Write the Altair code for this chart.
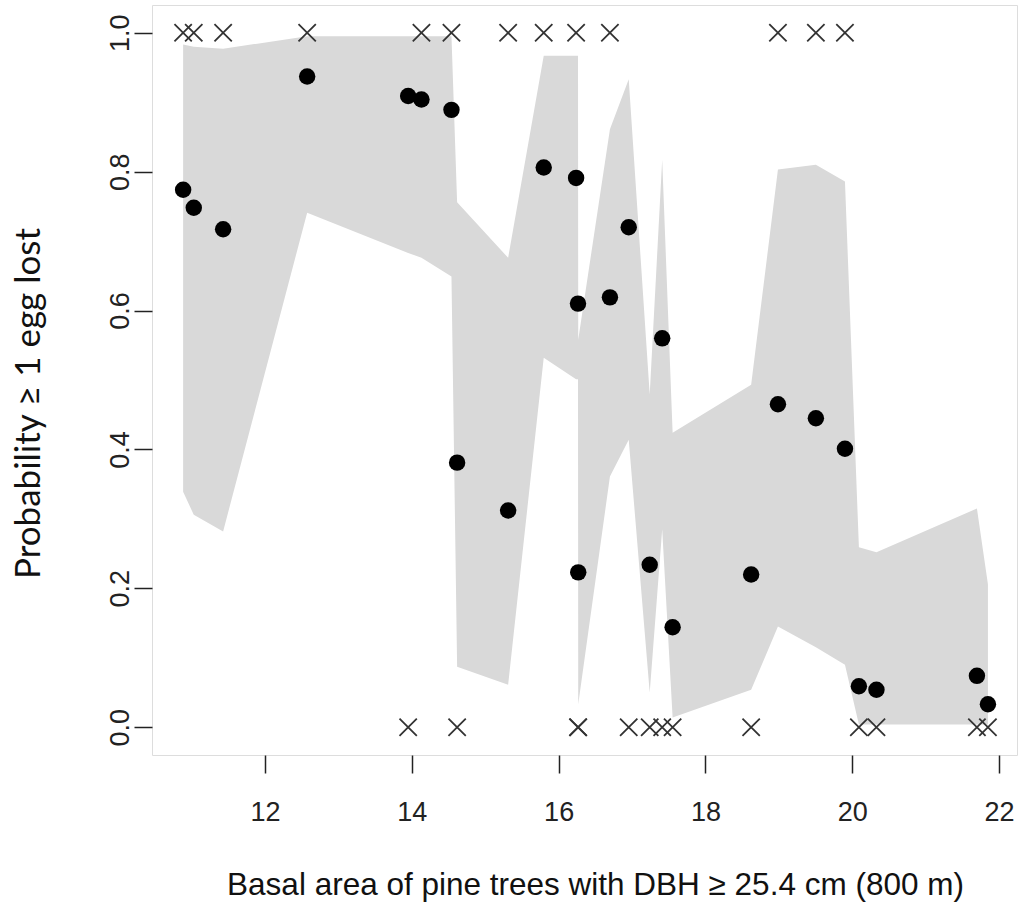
import altair as alt
import pandas as pd

# ---- data ----
basal_area = [10.884, 11.029, 11.429, 12.574, 13.950, 14.131, 14.540, 14.617, 15.312,
              15.797, 16.238, 16.264, 16.267, 16.699, 16.955, 17.241, 17.411, 17.553,
              18.623, 18.988, 19.505, 19.901, 20.091, 20.330, 21.699, 21.849]
predicted = [0.774, 0.748, 0.717, 0.937, 0.909, 0.904, 0.889, 0.381, 0.312,
             0.806, 0.791, 0.610, 0.223, 0.619, 0.720, 0.234, 0.560, 0.144,
             0.220, 0.465, 0.445, 0.401, 0.059, 0.054, 0.074, 0.033]
observed = [1, 1, 1, 1, 0, 1, 1, 0, 1,
            1, 1, 0, 0, 1, 0, 0, 0, 0,
            0, 1, 1, 1, 0, 0, 0, 0]
ci_upper = [0.983, 0.980, 0.977, 0.995, 0.995, 0.995, 0.995, 0.756, 0.676,
            0.967, 0.967, 0.967, 0.558, 0.861, 0.933, 0.479, 0.817, 0.424,
            0.493, 0.803, 0.810, 0.786, 0.259, 0.252, 0.315, 0.206]
ci_lower = [0.339, 0.306, 0.282, 0.741, 0.683, 0.676, 0.649, 0.087, 0.061,
            0.532, 0.501, 0.501, 0.033, 0.361, 0.414, 0.050, 0.285, 0.014,
            0.054, 0.145, 0.115, 0.090, 0.004, 0.004, 0.004, 0.004]

x_ticks = [12, 14, 16, 18, 20, 22]
y_ticks = [0.0, 0.2, 0.4, 0.6, 0.8, 1.0]

df = pd.DataFrame({
    "x": basal_area, "p": predicted, "obs": observed,
    "hi": ci_upper, "lo": ci_lower,
})

W, H = 865, 750
xscale = alt.Scale(domain=[10.46, 22.245], nice=False, zero=False)
yscale = alt.Scale(domain=[-0.04, 1.04], nice=False, zero=False)

xaxis = alt.Axis(
    values=x_ticks, format="d", grid=False, domain=False,
    tickSize=18, tickColor="#222", tickWidth=1.5,
    labelFont="Liberation Sans", labelFontSize=27, labelColor="#222",
    labelPadding=26, labelBaseline="top",
    title="Basal area of pine trees with DBH \u2265 25.4 cm (800 m)",
    titleFont="Liberation Sans", titleFontSize=31.5, titleFontWeight="normal",
    titleColor="#111", titleX=443, titleY=130, titleAnchor="middle",
    titleAlign="center", titleBaseline="middle",
)
yaxis = alt.Axis(
    values=y_ticks, format=".1f", grid=False, domain=False,
    tickSize=18, tickColor="#222", tickWidth=1.5,
    labelFont="Liberation Sans", labelFontSize=27, labelColor="#222",
    labelAngle=270, labelAlign="center", labelBaseline="alphabetic",
    labelPadding=6,
    title="Probability \u2265 1 egg lost",
    titleFont="Lato", titleFontSize=35, titleFontWeight="normal",
    titleColor="#111", titleAngle=270, titleX=-124, titleY=398,
    titleAlign="center", titleBaseline="middle",
)

base = alt.Chart(df)

band = base.mark_area(color="#d9d9d9", opacity=1, interpolate="linear").encode(
    x=alt.X("x:Q", scale=xscale, axis=xaxis),
    y=alt.Y("hi:Q", scale=yscale, axis=yaxis, stack=None),
    y2=alt.Y2("lo:Q"),
)

crosses = base.mark_point(
    shape="M-1,-1L1,1M1,-1L-1,1", filled=False, color="#333",
    strokeWidth=1.8, size=300, opacity=1,
).encode(
    x=alt.X("x:Q", scale=xscale),
    y=alt.Y("obs:Q", scale=yscale),
)

points = base.mark_point(
    shape="circle", filled=True, color="black", size=270, opacity=1,
).encode(
    x=alt.X("x:Q", scale=xscale),
    y=alt.Y("p:Q", scale=yscale),
)

chart = (
    alt.layer(band, crosses, points)
    .properties(width=W, height=H,
                autosize=alt.AutoSizeParams(type="none"),
                padding={"left": 152, "top": 5, "right": 2, "bottom": 156})
    .configure_view(stroke="#222", strokeWidth=2, fill="white")
    .configure(background="white")
)

chart.save("out.html", embed_options={"renderer": "svg", "actions": False})
